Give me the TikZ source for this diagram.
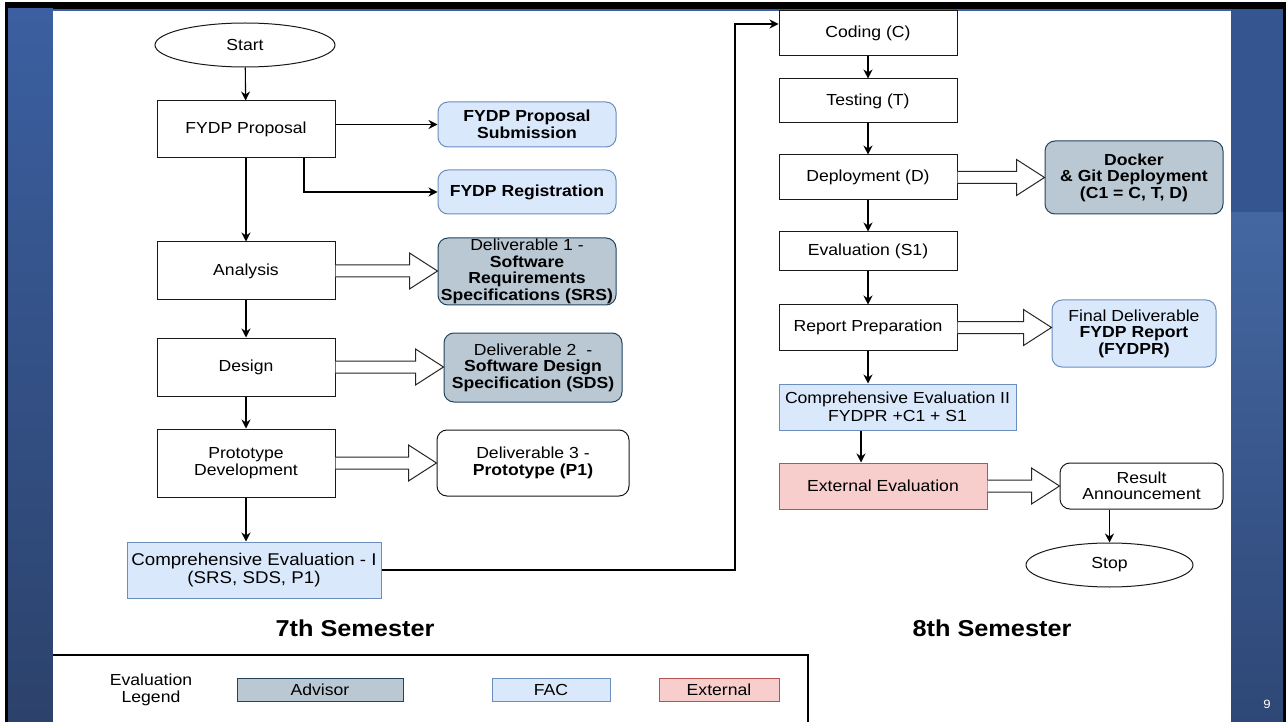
\documentclass[tikz,border=0pt]{standalone}
\usepackage{fontspec}
\setmainfont{Liberation Sans}[FakeStretch=1.1]
\usetikzlibrary{shapes.geometric,arrows.meta,calc}
\definecolor{fblue}{HTML}{DAE8FC}
\definecolor{dblue}{HTML}{6C8EBF}
\definecolor{fgray}{HTML}{BAC8D3}
\definecolor{dgray}{HTML}{23445D}
\definecolor{fred}{HTML}{F8CECC}
\definecolor{dred}{HTML}{B85450}
\definecolor{pantop}{HTML}{3B5FA0}
\definecolor{panbot}{HTML}{2C426C}
\definecolor{rpanA}{HTML}{34558F}
\definecolor{rpanB}{HTML}{4467A2}
\definecolor{rpanC}{HTML}{2E4776}
\newcommand\fs{\fontsize{16}{17.5}\selectfont}
\newcommand\fsb{\fontsize{16}{16.5}\selectfont}
\newcommand\fsc{\fontsize{17}{18.5}\selectfont}
\newcommand{\barrow}[2]{\draw[barr] let \p1=(#1.east), \p2=(#2.west) in
  (\x1,\y1+6pt) -- (\x2-28pt,\y1+6pt) -- (\x2-28pt,\y1+18pt) -- (\x2,\y1) --
  (\x2-28pt,\y1-18pt) -- (\x2-28pt,\y1-6pt) -- (\x1,\y1-6pt);}
\tikzset{
  bx/.style={draw=black!90, line width=1pt, fill=white, rectangle, align=center, inner sep=2pt, font=\fs},
  rbx/.style={bx, rounded corners=10pt, font=\fsb},
  ell/.style={draw=black!90, line width=1pt, fill=white, ellipse, inner sep=0pt, font=\fs},
  bluebx/.style={fill=fblue, draw=dblue},
  graybx/.style={fill=fgray, draw=dgray},
  redbx/.style={fill=fred, draw=dred},
  arr/.style={line width=1.1pt, -{Stealth[length=9pt,width=9pt]}},
  barr/.style={draw=black!85, line width=1pt, fill=white},
  sem/.style={font=\fontsize{23}{26}\selectfont\bfseries},
}
\begin{document}
\begin{tikzpicture}[x=1pt,y=-1pt]
\useasboundingbox (0,0) rectangle (1286,722);
% background
\fill[white] (0,0) rectangle (1286,722);
\fill[black] (5,2) rectangle (1286,722);
\shade[top color=pantop, bottom color=panbot] (8,9) rectangle (53,722);
\fill[rpanA] (1231,9) rectangle (1283,213);
\shade[top color=rpanB, bottom color=rpanC] (1231,213) rectangle (1283,722);
\fill[pantop] (53,9) rectangle (1231,11);
\fill[white] (53,11) rectangle (1231,722);
\node[text=white, font=\fontsize{12}{14}\selectfont] (pg) at (1267,704) {9};

% 7th semester
\node[ell, minimum width=180pt, minimum height=44pt] (start) at (245,45) {Start};
\node[bx, minimum width=178pt, minimum height=57pt] (prop) at (246,129.5) {FYDP Proposal};
\node[rbx, bluebx, minimum width=178pt, minimum height=45pt] (sub) at (527,124.5) {\textbf{FYDP Proposal}\\\textbf{Submission}};
\node[rbx, bluebx, minimum width=178pt, minimum height=44pt] (reg) at (527,192) {\textbf{FYDP Registration}};
\node[bx, minimum width=178pt, minimum height=58pt] (ana) at (246,271) {Analysis};
\node[rbx, graybx, minimum width=178pt, minimum height=67pt, inner sep=0pt] (d1) at (527,271.5) {Deliverable 1 -\\\textbf{Software}\\\textbf{Requirements}\\\textbf{Specifications (SRS)}};
\node[bx, minimum width=178pt, minimum height=58pt] (des) at (246,367) {Design};
\node[rbx, graybx, minimum width=178pt, minimum height=69pt] (d2) at (533,367.5) {Deliverable 2\ \ -\\\textbf{Software Design}\\\textbf{Specification (SDS)}};
\node[bx, minimum width=178pt, minimum height=68pt] (proto) at (246,463) {Prototype\\Development};
\node[rbx, minimum width=192pt, minimum height=66pt] (d3) at (533,463) {Deliverable 3 -\\\textbf{Prototype (P1)}};
\node[bx, bluebx, minimum width=254pt, minimum height=56pt, inner sep=0pt, font=\fsc] (ce1) at (254,570) {Comprehensive Evaluation - I\\(SRS, SDS, P1)};
\node[sem] (s7) at (355,628) {7th Semester};

% 8th semester
\node[bx, minimum width=178pt, minimum height=45pt] (coding) at (868,33.5) {Coding (C)};
\node[bx, minimum width=178pt, minimum height=44pt] (testing) at (868,101) {Testing (T)};
\node[bx, minimum width=178pt, minimum height=45pt] (deploy) at (868,177.5) {Deployment (D)};
\node[rbx, graybx, minimum width=178pt, minimum height=73pt] (docker) at (1134,177.5) {\textbf{Docker}\\\textbf{\& Git Deployment}\\\textbf{(C1 = C, T, D)}};
\node[bx, minimum width=178pt, minimum height=39pt] (eval) at (868,251.5) {Evaluation (S1)};
\node[bx, minimum width=178pt, minimum height=45pt] (report) at (868,327.5) {Report Preparation};
\node[rbx, bluebx, minimum width=164pt, minimum height=67pt] (final) at (1134,333.5) {Final Deliverable\\\textbf{FYDP Report}\\\textbf{(FYDPR)}};
\node[bx, bluebx, minimum width=237pt, minimum height=46pt, inner sep=0pt] (ce2) at (897.5,407) {Comprehensive Evaluation II\\FYDPR +C1 + S1};
\node[bx, redbx, minimum width=208pt, minimum height=46pt] (ext) at (883,486) {External Evaluation};
\node[rbx, minimum width=163pt, minimum height=46pt] (result) at (1141.5,486) {Result\\Announcement};
\node[ell, minimum width=167pt, minimum height=44pt] (stop) at (1109.5,565) {Stop};
\node[sem] (s8) at (992,628) {8th Semester};

% connectors
\draw[arr] (start) -- (prop);
\draw[arr] (prop.east |- sub.west) -- (sub.west);
\draw[arr] ([xshift=58pt]prop.south) |- (reg.west);
\draw[arr] (prop) -- (ana);
\draw[arr] (ana) -- (des);
\draw[arr] (des) -- (proto);
\draw[arr] (proto.south) -- (proto.south |- ce1.north);
\coordinate (cin) at ([yshift=9.5pt]coding.west);
\coordinate (cturn) at (735,0);
\draw[arr] (ce1.east) -| (cturn |- cin) -- (cin);
\draw[arr] (coding) -- (testing);
\draw[arr] (testing) -- (deploy);
\draw[arr] (deploy) -- (eval);
\draw[arr] (eval) -- (report);
\draw[arr] (report.south) -- (report.south |- ce2.north);
\coordinate (ein) at ([xshift=-22pt]ext.north);
\draw[arr] (ein |- ce2.south) -- (ein);
\draw[arr] (stop.north |- result.south) -- (stop.north);

\barrow{ana}{d1}
\barrow{des}{d2}
\barrow{proto}{d3}
\barrow{deploy}{docker}
\barrow{report}{final}
\barrow{ext}{result}

% legend
\draw[line width=1.2pt] (53,655) -- (808,655) -- (808,723);
\node[font=\fs, align=center] (lg) at (151,690) {Evaluation\\Legend};
\node[draw=dgray, fill=fgray, line width=1pt, minimum width=166pt, minimum height=23pt, font=\fs, inner sep=0pt] (ladv) at (320,689.5) {Advisor};
\node[draw=dblue, fill=fblue, line width=1pt, minimum width=118pt, minimum height=23pt, font=\fs, inner sep=0pt] (lfac) at (551,689.5) {FAC};
\node[draw=dred, fill=fred, line width=1pt, minimum width=120pt, minimum height=23pt, font=\fs, inner sep=0pt] (lext) at (719,689.5) {External};
\end{tikzpicture}
\end{document}
